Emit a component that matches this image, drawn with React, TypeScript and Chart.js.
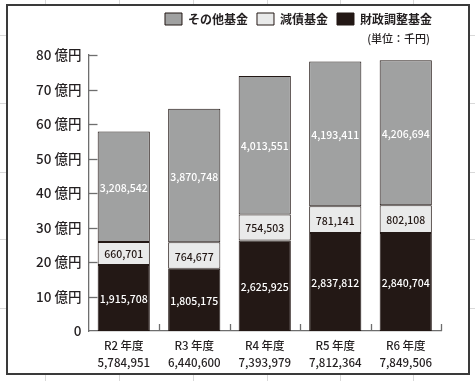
import React, { useEffect, useRef } from "react";
import { Chart, registerables } from "chart.js";

Chart.register(...registerables);

// ---- data (千円) ----
const categories = ["R2 年度", "R3 年度", "R4 年度", "R5 年度", "R6 年度"];
const totalLabels = ["5,784,951", "6,440,600", "7,393,979", "7,812,364", "7,849,506"];
const fiscalAdjustmentFund = [1915708, 1805175, 2625925, 2837812, 2840704];
const debtReductionFund = [660701, 764677, 754503, 781141, 802108];
const otherFunds = [3208542, 3870748, 4013551, 4193411, 4206694];
const seriesNames = ["財政調整基金", "減債基金", "その他基金"];
const unitText = "(単位：千円)\u3000";
const yMax = 8000000;
const yStep = 1000000;

const FONT = "'Noto Sans CJK JP', 'Noto Sans', sans-serif";
const TEXT = "#231f20";
const AXIS = "#6e6e6e";

const fmt = (v: number) => v.toLocaleString("en-US");

const inwardTicks = {
  id: "inwardTicks",
  afterDraw(chart: any) {
    const { ctx } = chart;
    const xs = chart.scales.x;
    const ys = chart.scales.y;
    ctx.save();
    ctx.strokeStyle = AXIS;
    ctx.lineWidth = 1.3;
    ys.ticks.forEach((t: any) => {
      if (t.value === 0) return;
      const py = Math.round(ys.getPixelForValue(t.value)) + 0.5;
      ctx.beginPath();
      ctx.moveTo(ys.right, py);
      ctx.lineTo(ys.right + 9, py);
      ctx.stroke();
    });
    for (let i = 0; i < categories.length; i++) {
      const px = Math.round(xs.getPixelForValue(i + 0.5)) + 0.5;
      ctx.beginPath();
      ctx.moveTo(px, xs.top);
      ctx.lineTo(px, xs.top - 7);
      ctx.stroke();
    }
    ctx.restore();
  },
};

const barLabels = {
  id: "barLabels",
  afterDatasetsDraw(chart: any) {
    const { ctx } = chart;
    ctx.save();
    ctx.font = `500 10.5px ${FONT}`;
    ctx.textAlign = "center";
    ctx.textBaseline = "middle";
    chart.data.datasets.forEach((ds: any, di: number) => {
      const meta = chart.getDatasetMeta(di);
      meta.data.forEach((el: any, i: number) => {
        const { x, y, base } = el.getProps(["x", "y", "base"], true);
        ctx.fillStyle = ds.labelColor;
        ctx.fillText(fmt(ds.data[i]), x, (y + base) / 2 + 1);
      });
    });
    ctx.restore();
  },
};

export default function App() {
  const ref = useRef<HTMLCanvasElement | null>(null);

  useEffect(() => {
    if (!ref.current) return;
    const chart = new Chart(ref.current, {
      type: "bar",
      data: {
        labels: categories.map((c, i) => [c, totalLabels[i]]),
        datasets: [
          {
            label: seriesNames[0],
            data: fiscalAdjustmentFund,
            backgroundColor: "#231815",
            borderColor: "#231815",
            borderWidth: 1,
            borderSkipped: false,
            labelColor: "#ffffff",
          } as any,
          {
            label: seriesNames[1],
            data: debtReductionFund,
            backgroundColor: "#e9eaea",
            borderColor: "#231815",
            borderWidth: 1,
            borderSkipped: false,
            labelColor: "#231815",
          } as any,
          {
            label: seriesNames[2],
            data: otherFunds,
            backgroundColor: "#a0a1a1",
            borderColor: "#231815",
            borderWidth: 1,
            borderSkipped: false,
            labelColor: "#ffffff",
          } as any,
        ],
      },
      options: {
        responsive: false,
        animation: false,
        devicePixelRatio: 1,
        layout: { padding: { top: 4, left: 8.5, right: 34, bottom: 0 } },
        datasets: { bar: { categoryPercentage: 1, barPercentage: 0.74 } },
        plugins: {
          tooltip: { enabled: false },
          legend: {
            position: "top",
            align: "end",
            reverse: true,
            labels: {
              boxWidth: 17,
              boxHeight: 12,
              padding: 9,
              color: TEXT,
              font: { family: FONT, size: 12, weight: "bold" },
            },
          },
          subtitle: {
            display: true,
            text: unitText,
            position: "top",
            align: "end",
            weight: 500,
            color: TEXT,
            font: { family: FONT, size: 11, lineHeight: 1.2, weight: "500" },
            padding: { top: -3, bottom: 9.8 },
          } as any,
        },
        scales: {
          x: {
            stacked: true,
            offset: true,
            grid: { display: false, drawTicks: false },
            border: { display: true, color: AXIS, width: 1.3 },
            ticks: {
              color: TEXT,
              padding: 5.5,
              font: { family: FONT, size: 11.5, lineHeight: 1.5, weight: "500" },
            },
            afterFit: (s: any) => {
              s.height = 50;
            },
          },
          y: {
            stacked: true,
            min: 0,
            max: yMax,
            grid: { display: false, drawTicks: false },
            border: { display: true, color: AXIS, width: 1.3 },
            ticks: {
              stepSize: yStep,
              color: TEXT,
              padding: 7,
              font: { family: FONT, size: 13.5, weight: "500" },
              callback: (v: any) => (v === 0 ? "0" : `${v / 100000} 億円`),
            },
            afterFit: (s: any) => {
              s.width = 80;
            },
          },
        },
      },
      plugins: [inwardTicks, barLabels],
    });
    return () => chart.destroy();
  }, []);

  const vLines = [45, 119, 193, 267, 340, 413];
  const hLines = [35, 103, 172, 239, 308];

  return (
    <div style={{ position: "absolute", left: 0, top: 0, width: 475, height: 381, background: "#fff", overflow: "hidden" }}>
      {vLines.map((x) => (
        <div key={"v" + x} style={{ position: "absolute", left: x, top: 0, width: 1, height: 381, background: "#d9d9d9" }} />
      ))}
      {hLines.map((y) => (
        <div key={"h" + y} style={{ position: "absolute", left: 0, top: y, width: 475, height: 1, background: "#d9d9d9" }} />
      ))}
      <div
        style={{
          position: "absolute",
          left: 6,
          top: 4,
          width: 464,
          height: 371,
          boxSizing: "border-box",
          border: "2px solid #3a3a3a",
          background: "#fff",
        }}
      />
      <canvas ref={ref} width={475} height={381} style={{ position: "absolute", left: 0, top: 0 }} />
    </div>
  );
}
